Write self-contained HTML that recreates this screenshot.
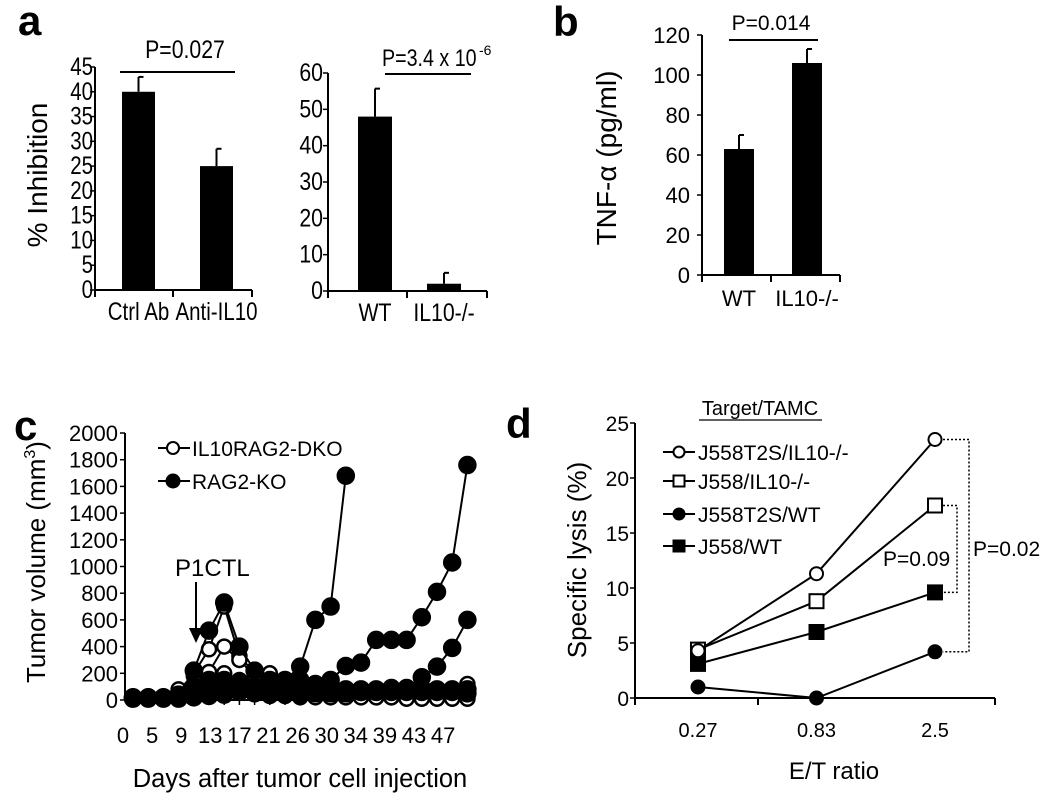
<!DOCTYPE html>
<html><head><meta charset="utf-8"><style>
body{margin:0;background:#fff;width:1050px;height:798px;overflow:hidden}
svg text{font-family:"Liberation Sans",Arial,sans-serif;fill:#000}
</style></head><body>
<svg id="fig" width="1050" height="798" viewBox="0 0 1050 798" xmlns="http://www.w3.org/2000/svg">
<text x="18" y="35" font-size="42" font-weight="bold">a</text>
<text x="553" y="36" font-size="42" font-weight="bold">b</text>
<text x="14" y="440" font-size="42" font-weight="bold">c</text>
<text x="506" y="438" font-size="42" font-weight="bold">d</text>
<g id="pa1"></g>
<g id="pa2"></g>
<g id="pb"></g>
<g id="pc"></g>
<g id="pd"></g>
</svg>
<script>
// ---- Panel a (left)
const a1Cats = ["Ctrl Ab", "Anti-IL10"];
const a1Vals = [40, 25];
const a1Errs = [43, 28.5];
const a1Ticks = [0,5,10,15,20,25,30,35,40,45];
// ---- Panel a (right)
const a2Cats = ["WT", "IL10-/-"];
const a2Vals = [48, 2];
const a2Errs = [55.7, 5];
const a2Ticks = [0,10,20,30,40,50,60];
// ---- Panel b
const bCats = ["WT", "IL10-/-"];
const bVals = [63, 106];
const bErrs = [70, 113];
const bTicks = [0,20,40,60,80,100,120];
// ---- Panel c
const cDayLabels = ["0","5","9","13","17","21","26","30","34","39","43","47"];
const cTicks = [0,200,400,600,800,1000,1200,1400,1600,1800,2000];
const cRagA = [20,20,20,40,220,520,730,400,220,150,150,250,600,700,1680];
const cRagB = [20,20,20,30,100,150,120,100,80,100,140,150,120,150,255,280,450,450,450,620,810,1030,1760];
const cRagC = [20,20,20,30,60,100,150,130,100,80,80,70,70,80,80,80,80,90,90,170,250,390,600];
const cRagD = [15,15,15,20,40,80,100,110,80,60,60,60,70,60,60,60,70,70,80,90,80,80,80];
const cRagE = [10,10,10,10,20,30,40,60,50,40,40,40,50,50,50,60,60,60,60,60,60,60,50];
const cDkoA = [10,10,10,60,200,380,700,330,200,200,60,40,30,30,20,20,20,20,20,20,20,20,20];
const cDkoB = [10,10,10,80,180,210,400,300,180,80,60,60,60,60,60,60,60,60,60,60,70,80,120];
const cDkoC = [10,10,10,40,100,130,200,150,100,60,40,40,40,30,30,30,30,20,10,10,10,10,10];
const cDkoD = [10,10,10,20,40,60,90,70,50,30,30,20,20,20,20,20,20,20,10,10,10,10,10];
// ---- Panel d
const dCats = ["0.27","0.83","2.5"];
const dTicks = [0,5,10,15,20,25];
const dOpenCircle = [4.3, 11.3, 23.5];
const dOpenSquare = [4.4, 8.8, 17.5];
const dFilledCircle = [1.0, 0, 4.2];
const dFilledSquare = [3.1, 6.0, 9.6];

const NS="http://www.w3.org/2000/svg";
function mk(parent, tag, attrs, txt){
  const e=document.createElementNS(NS,tag);
  for(const k in attrs) e.setAttribute(k, attrs[k]);
  if(txt!==undefined) e.textContent=txt;
  parent.appendChild(e); return e;
}
function ntext(parent,x,y,fs,sx,anchor,txt){
  return mk(parent,'text',{transform:`translate(${x},${y}) scale(${sx},1)`,'font-size':fs,'text-anchor':anchor},txt);
}

function barChart(g, o){
  const y = v => o.y0 - (v/o.max)*(o.y0-o.yTop);
  let l=mk(g,'line',{x1:o.ax,y1:o.yTop,x2:o.ax,y2:o.y0+1,stroke:'#000','stroke-width':2});
  
  
  l=mk(g,'line',{x1:o.ax-1,y1:o.y0,x2:o.axEnd,y2:o.y0,stroke:'#000','stroke-width':2});
  
  
  [o.ax,o.midTick,o.axEnd].forEach(tx=>mk(g,'line',{x1:tx,y1:o.y0,x2:tx,y2:o.y0+7,stroke:'#000','stroke-width':2}));
  o.ticks.forEach(t=>{
    mk(g,'line',{x1:o.ax-5,y1:y(t),x2:o.ax,y2:y(t),stroke:'#000','stroke-width':1.5});
    const tt=ntext(g,o.ax-o.tgap,y(t)+8,o.fs,o.sx,'end',String(t));
    
    
  });
  o.cats.forEach((c,i)=>{
    const x0=o.barX[i], w=o.barW;
    const r=mk(g,'rect',{x:x0,y:y(o.vals[i]),width:w,height:o.y0-y(o.vals[i]),fill:'#000'});
    
    
    const cx=x0+w/2;
    mk(g,'line',{x1:cx,y1:y(o.vals[i]),x2:cx,y2:y(o.errs[i]),stroke:'#000','stroke-width':2});
    mk(g,'line',{x1:cx,y1:y(o.errs[i]),x2:cx+5,y2:y(o.errs[i]),stroke:'#000','stroke-width':2});
    const t=ntext(g,cx,o.y0+o.lab,o.fs,o.sx,'middle',c);
    
    
  });
}

barChart(document.getElementById('pa1'),{ax:95,axEnd:252,midTick:173,y0:290,yTop:67,max:45,ticks:a1Ticks,cats:a1Cats,vals:a1Vals,errs:a1Errs,barX:[122,200],barW:33,fs:25,sx:0.82,tgap:2,lab:30});
barChart(document.getElementById('pa2'),{ax:328,axEnd:487,midTick:407,y0:291,yTop:73,max:60,ticks:a2Ticks,cats:a2Cats,vals:a2Vals,errs:a2Errs,barX:[358,427],barW:34,fs:25,sx:0.85,tgap:5,lab:30});
barChart(document.getElementById('pb'),{ax:702,axEnd:840,midTick:771,y0:275,yTop:35,max:120,ticks:bTicks,cats:bCats,vals:bVals,errs:bErrs,barX:[724,792],barW:30,fs:22,sx:1,tgap:12,lab:31});

(function(){
  const g1=document.getElementById('pa1');
  let t=mk(g1,'text',{transform:'translate(47,175) rotate(-90)','font-size':28,'text-anchor':'middle'},'% Inhibition');
   
  mk(g1,'line',{x1:120,y1:72,x2:235,y2:72,stroke:'#000','stroke-width':2});
  t=ntext(g1,185,58,25,0.85,'middle','P=0.027');
   
  const g2=document.getElementById('pa2');
  mk(g2,'line',{x1:385,y1:74,x2:471,y2:74,stroke:'#000','stroke-width':2});
  t=ntext(g2,382,66,24,0.82,'start','P=3.4 x 10');
   
  mk(g2,'text',{x:479,y:55,'font-size':14},'-6');
  const gb=document.getElementById('pb');
  t=mk(gb,'text',{transform:'translate(616,158) rotate(-90)','font-size':28,'text-anchor':'middle'},'TNF-α (pg/ml)');
   
  mk(gb,'line',{x1:729,y1:40,x2:818,y2:40,stroke:'#000','stroke-width':2});
  t=mk(gb,'text',{x:771,y:30,'font-size':21,'text-anchor':'middle'},'P=0.014');
   
})();

// ---- Panel c
(function(){
  const g=document.getElementById('pc');
  const ax=125, y0=700, yTop=433, max=2000;
  const y=v=>y0-(v/max)*(y0-yTop);
  const x=i=>133+i*15.2;
  let l=mk(g,'line',{x1:ax,y1:yTop,x2:ax,y2:y0,stroke:'#000','stroke-width':2});
   
  l=mk(g,'line',{x1:ax,y1:y0,x2:474,y2:y0,stroke:'#000','stroke-width':2});
   
  cTicks.forEach(t=>{
    mk(g,'line',{x1:ax-5,y1:y(t),x2:ax,y2:y(t),stroke:'#000','stroke-width':1.5});
    const tt=mk(g,'text',{x:ax-7,y:y(t)+8,'font-size':22,'text-anchor':'end'},String(t));
     
  });
  for(let i=0;i<23;i++) mk(g,'line',{x1:x(i),y1:y0,x2:x(i),y2:y0+5,stroke:'#000','stroke-width':1.5});
  cDayLabels.forEach((d,i)=>{
    const tt=mk(g,'text',{x:123+i*29.1,y:743,'font-size':22,'text-anchor':'middle'},d);
     
  });
  function series(vals, filled, name){
    const pts=vals.map((v,i)=>x(i)+','+y(v)).join(' ');
    const p=mk(g,'polyline',{points:pts,fill:'none',stroke:'#000','stroke-width':2});
     
    vals.forEach((v,i)=>{
      const c=mk(g,'circle',{cx:x(i),cy:y(v),r:filled?8:7,fill:filled?'#000':'#fff',stroke:'#000','stroke-width':2.5});
       
    });
  }
  [cDkoA,cDkoB,cDkoC,cDkoD].forEach((s,k)=>series(s,false,'dko-mouse-'+(k+1)));
  [cRagE,cRagD,cRagC,cRagB,cRagA].forEach((s,k)=>series(s,true,'rag2ko-mouse-'+(k+1)));
  mk(g,'line',{x1:158,y1:448,x2:190,y2:448,stroke:'#000','stroke-width':2});
  mk(g,'circle',{cx:173,cy:448,r:6,fill:'#fff',stroke:'#000','stroke-width':2});
  let t=mk(g,'text',{x:192,y:456,'font-size':21},'IL10RAG2-DKO');
   
  mk(g,'line',{x1:158,y1:481,x2:190,y2:481,stroke:'#000','stroke-width':2});
  mk(g,'circle',{cx:173,cy:481,r:7.5,fill:'#000'});
  t=mk(g,'text',{x:192,y:489,'font-size':21},'RAG2-KO');
   
  t=mk(g,'text',{x:175,y:576,'font-size':24},'P1CTL');
   
  mk(g,'line',{x1:196,y1:582,x2:196,y2:630,stroke:'#000','stroke-width':2});
  mk(g,'polygon',{points:'189,628 203,628 196,643',fill:'#000'});
  t=mk(g,'text',{transform:'translate(45,562) rotate(-90)','font-size':26,'text-anchor':'middle'},'Tumor volume (mm');
   
  mk(t,'tspan',{'font-size':16,dy:-10},'3');
  mk(t,'tspan',{dy:10},')');
  t=mk(g,'text',{x:300,y:787,'font-size':25.5,'text-anchor':'middle'},'Days after tumor cell injection');
   
})();

// ---- Panel d
(function(){
  const g=document.getElementById('pd');
  const ax=635, y0=698, yTop=423, max=25;
  const y=v=>y0-(v/max)*(y0-yTop);
  const xs=[698,817,935];
  const x=i=>xs[0]+i*(xs[2]-xs[0])/2;
  let l=mk(g,'line',{x1:ax,y1:yTop,x2:ax,y2:y0,stroke:'#000','stroke-width':2});
   
  l=mk(g,'line',{x1:ax,y1:y0,x2:995,y2:y0,stroke:'#000','stroke-width':2});
   
  [ax,758,995].forEach(tx=>mk(g,'line',{x1:tx,y1:y0,x2:tx,y2:y0+7,stroke:'#000','stroke-width':2}));
  dTicks.forEach(t=>{
    mk(g,'line',{x1:ax-5,y1:y(t),x2:ax,y2:y(t),stroke:'#000','stroke-width':1.5});
    const tt=mk(g,'text',{x:ax-6,y:y(t)+8,'font-size':21,'text-anchor':'end'},String(t));
     
  });
  dCats.forEach((c,i)=>{
    const tt=mk(g,'text',{x:x(i),y:737,'font-size':20,'text-anchor':'middle'},c);
     
  });
  function marker(cx,cy,shape,filled,s){
    if(shape==='c') return mk(g,'circle',{cx:cx,cy:cy,r:s,fill:filled?'#000':'#fff',stroke:'#000','stroke-width':2});
    return mk(g,'rect',{x:cx-s,y:cy-s,width:2*s,height:2*s,fill:filled?'#000':'#fff',stroke:'#000','stroke-width':2});
  }
  function series(vals,shape,filled,name){
    const p=mk(g,'polyline',{points:vals.map((v,i)=>x(i)+','+y(v)).join(' '),fill:'none',stroke:'#000','stroke-width':2});
     
    vals.forEach((v,i)=>{
      const m=marker(x(i),y(v),shape,filled,shape==='c'?6.5:7);
       
    });
  }
  series(dFilledCircle,'c',true,'j558t2s-wt');
  series(dFilledSquare,'s',true,'j558-wt');
  series(dOpenSquare,'s',false,'j558-il10ko');
  series(dOpenCircle,'c',false,'j558t2s-il10ko');
  const xe=x(2)+8;
  mk(g,'polyline',{points:`${xe},${y(dOpenSquare[2])} 957,${y(dOpenSquare[2])} 957,${y(dFilledSquare[2])} ${xe},${y(dFilledSquare[2])}`,fill:'none',stroke:'#000','stroke-width':1.5,'stroke-dasharray':'2,2'});
  mk(g,'polyline',{points:`${xe},${y(dOpenCircle[2])} 969,${y(dOpenCircle[2])} 969,${y(dFilledCircle[2])} ${xe},${y(dFilledCircle[2])}`,fill:'none',stroke:'#000','stroke-width':1.5,'stroke-dasharray':'2,2'});
  let t=mk(g,'text',{x:883,y:566,'font-size':21},'P=0.09');
   
  t=mk(g,'text',{x:973,y:556,'font-size':21},'P=0.02');
   
  const leg=[["J558T2S/IL10-/-",'c',false],["J558/IL10-/-",'s',false],["J558T2S/WT",'c',true],["J558/WT",'s',true]];
  const ly=[452,481,514,546];
  leg.forEach((e,i)=>{
    mk(g,'line',{x1:663,y1:ly[i],x2:695,y2:ly[i],stroke:'#000','stroke-width':2});
    marker(679,ly[i],e[1],e[2],5.5);
    const tt=mk(g,'text',{x:698,y:ly[i]+8,'font-size':21},e[0]);
     
  });
  t=mk(g,'text',{x:760,y:415,'font-size':20,'text-anchor':'middle'},'Target/TAMC');
   
  mk(g,'line',{x1:699,y1:420,x2:822,y2:420,stroke:'#000','stroke-width':1.2});
  t=mk(g,'text',{transform:'translate(586,560) rotate(-90)','font-size':26,'text-anchor':'middle'},'Specific lysis (%)');
   
  t=mk(g,'text',{x:834,y:779,'font-size':24,'text-anchor':'middle'},'E/T ratio');
   
})();
</script>
</body></html>
